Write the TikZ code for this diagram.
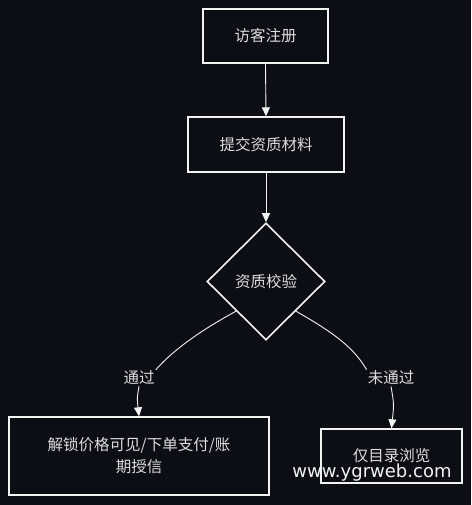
\documentclass[tikz,border=0pt]{standalone}
\usepackage{fontspec}
\setmainfont{Noto Sans CJK SC}
\newfontfamily\wmfont{DejaVu Sans}
\usetikzlibrary{shapes.geometric,arrows.meta}
\definecolor{bg}{HTML}{0B0E15}
\definecolor{ink}{HTML}{F2F2F2}
\definecolor{txt}{HTML}{DCDCDC}
\tikzset{
  box/.style={draw=ink, line width=1.4pt, fill=bg, text=txt, inner sep=0pt,
    font=\fontsize{15.5}{22}\selectfont, align=center},
  dia/.style={diamond, draw=ink, line width=1.6pt, fill=bg, text=txt, inner sep=0pt,
    font=\fontsize{15.5}{22}\selectfont},
  lbl/.style={text=txt, font=\fontsize{15.5}{20}\selectfont, inner sep=1pt},
  conn/.style={draw=ink, line width=0.9pt},
  arr/.style={conn, -{Triangle[length=9pt,width=8pt]}}
}
\begin{document}
\begin{tikzpicture}[x=1pt,y=-1pt]
\fill[bg] (0,0) rectangle (471,505);
\useasboundingbox (0,0) rectangle (471,505);
\node[box, minimum width=125pt, minimum height=54pt] (reg) at (265.5,36) {访客注册};
\node[box, minimum width=156pt, minimum height=55pt] (sub) at (266,144.5) {提交资质材料};
\node[dia, minimum width=118pt, minimum height=117pt] (chk) at (266,281.5) {资质校验};
\node[box, minimum width=260pt, minimum height=78pt] (ok) at (139,456) {解锁价格可见/下单支付/账\\期授信};
\node[box, minimum width=141pt, minimum height=54pt] (no) at (391.5,456) {仅目录浏览};
\node[lbl] (lp) at (139,378) {通过};
\node[lbl] (ln) at (391,378) {未通过};
\node[text=ink, font=\wmfont\fontsize{18}{20}\selectfont, inner sep=0pt] (wm) at (372,473) {www.ygrweb.com};
\draw[arr] (reg.south) -- (sub.north);
\draw[arr] (sub.south) -- (chk.north);
\draw[conn] (chk.south west) .. controls (205,328) and (175,348) .. (lp.north east);
\draw[arr] (lp.south) .. controls (137,398) .. (ok.north);
\draw[conn] (chk.south east) .. controls (325,328) and (352,344) .. (ln.north west);
\draw[arr] (ln.south) .. controls (394,404) .. (no.north);
\end{tikzpicture}
\end{document}
